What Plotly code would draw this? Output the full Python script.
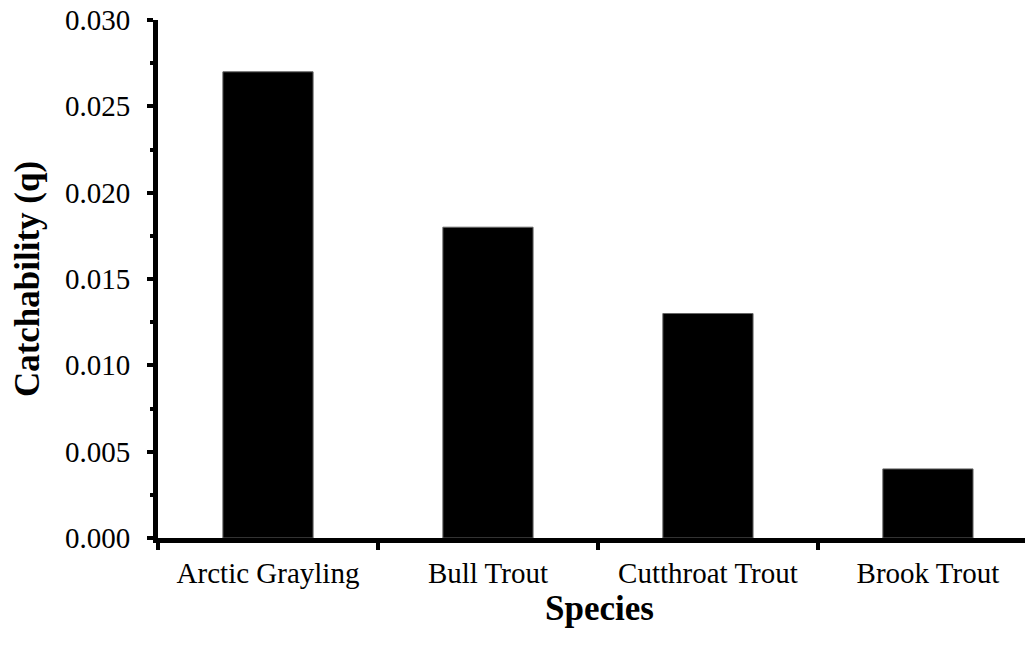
import plotly.graph_objects as go

species = ["Arctic Grayling", "Bull Trout", "Cutthroat Trout", "Brook Trout"]
catchability = [0.027, 0.018, 0.013, 0.004]
y_ticks = [0.000, 0.005, 0.010, 0.015, 0.020, 0.025, 0.030]

FONT = "Liberation Serif, Times New Roman, serif"

fig = go.Figure(
    go.Bar(
        x=species,
        y=catchability,
        width=0.41,
        marker=dict(color="black", line=dict(color="#666666", width=1)),
    )
)

fig.update_layout(
    width=1033,
    height=650,
    autosize=False,
    plot_bgcolor="white",
    paper_bgcolor="white",
    margin=dict(l=150, r=0, t=12, b=120, autoexpand=False),
    font=dict(family=FONT, color="black", size=29),
    showlegend=False,
)

fig.update_xaxes(
    range=[-0.5, 3.514],
    automargin=False,
    showline=True,
    linecolor="black",
    linewidth=5,
    showgrid=False,
    zeroline=False,
    ticks="outside",
    tickson="boundaries",
    ticklen=7,
    tickwidth=4,
    tickcolor="black",
    ticklabelstandoff=5,
    tickfont=dict(family=FONT, size=29, color="black"),
    title=dict(text="Species", font=dict(family=FONT, size=35, color="black", weight="bold"), standoff=9),
)

fig.update_yaxes(
    range=[0, 0.0300001],
    automargin=False,
    tickvals=y_ticks,
    tickformat=".3f",
    showline=True,
    linecolor="black",
    linewidth=5,
    showgrid=False,
    zeroline=False,
    ticks="outside",
    ticklen=6,
    tickwidth=4,
    tickcolor="black",
    ticklabelstandoff=11,
    ticklabeloverflow="allow",
    tickfont=dict(family=FONT, size=29, color="black"),
    minor=dict(dtick=0.0025, ticks="outside", ticklen=3, tickwidth=4, tickcolor="black", showgrid=False),
    title=dict(text="Catchability (q)", font=dict(family=FONT, size=35, color="black", weight="bold"), standoff=16),
)

fig.write_html("out.html")
